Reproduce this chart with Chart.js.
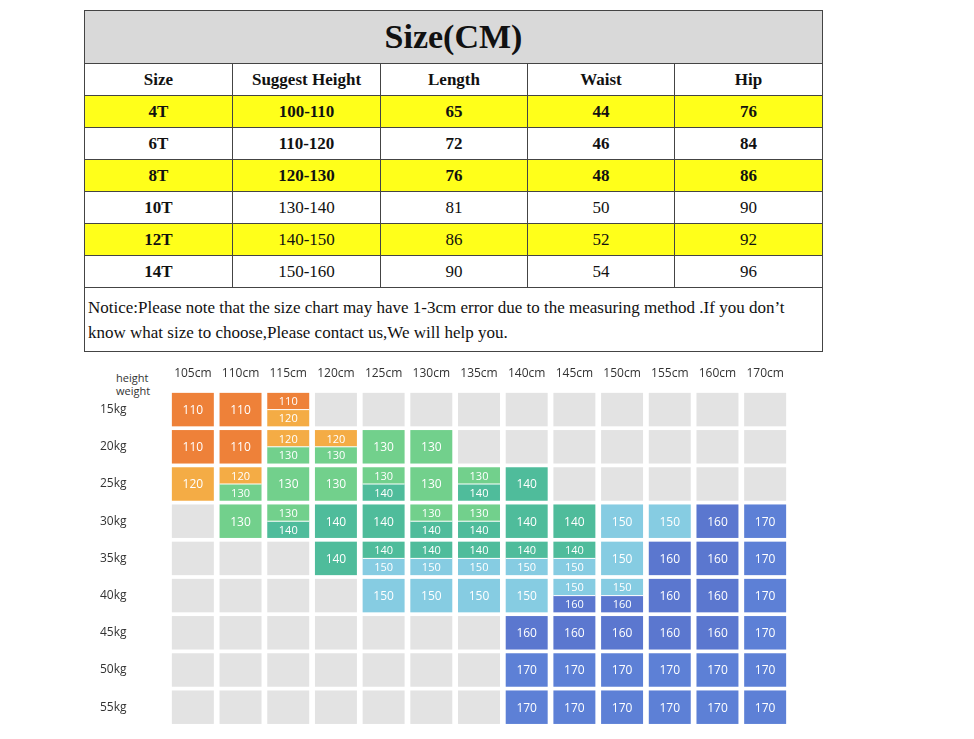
<!DOCTYPE html>
<html><head><meta charset="utf-8">
<script src="https://cdn.jsdelivr.net/npm/chart.js@4"></script>
<style>
body{margin:0;background:#fff;width:974px;height:739px;position:relative;overflow:hidden}
table{position:absolute;left:84px;top:10px;width:738px;table-layout:fixed;border-collapse:collapse;font-family:"Liberation Serif","DejaVu Serif",serif;color:#111}
td{border:1px solid #444;text-align:center;font-size:17px;height:31px;padding:0}
.t{background:#d9d9d9;font-size:34px;font-weight:bold;height:52px}
.y td{background:#ffff1a}
.b td{font-weight:bold}
.n{text-align:left;font-size:17px;line-height:25px;height:63px;padding-left:3px}
#hw{position:absolute;left:116px;top:371px;font:11px "Open Sans",sans-serif;color:#333;line-height:13px}
#box{position:absolute;left:100px;top:365px;width:700px;height:372px}
</style></head><body>
<table id="tbl"></table>
<div id="hw">height<br>weight</div>
<div id="box"><canvas id="c"></canvas></div>
<script>
const sizes=["4T","6T","8T","10T","12T","14T"];
const heightsSuggest=["100-110","110-120","120-130","130-140","140-150","150-160"];
const lengths=[65,72,76,81,86,90];
const waists=[44,46,48,50,52,54];
const hips=[76,84,86,90,92,96];
const heights=["105cm","110cm","115cm","120cm","125cm","130cm","135cm","140cm","145cm","150cm","155cm","160cm","170cm"];
const weights=["15kg","20kg","25kg","30kg","35kg","40kg","45kg","50kg","55kg"];
const grid=[
["110","110","110/120","","","","","","","","","",""],
["110","110","120/130","120/130","130","130","","","","","","",""],
["120","120/130","130","130","130/140","130","130/140","140","","","","",""],
["","130","130/140","140","140","130/140","130/140","140","140","150","150","160","170"],
["","","","140","140/150","140/150","140/150","140/150","140/150","150","160","160","170"],
["","","","","150","150","150","150","150/160","150/160","160","160","170"],
["","","","","","","","160","160","160","160","160","170"],
["","","","","","","","170","170","170","170","170","170"],
["","","","","","","","170","170","170","170","170","170"]];
const colors={"110":"#ee8139","120":"#f4ac45","130":"#72d08c","140":"#4fbc9b","150":"#86cce2","160":"#5b77cf","170":"#5d80d6"};

let h='<colgroup><col style="width:148px"><col style="width:148px"><col style="width:147px"><col style="width:147px"><col style="width:148px"></colgroup><tr><td colspan="5" class="t">Size(CM)</td></tr><tr class="b"><td>Size</td><td>Suggest Height</td><td>Length</td><td>Waist</td><td>Hip</td></tr>';
sizes.forEach((s,i)=>{const hl=i%2==0;const bold=i<3;
h+=`<tr class="${hl?'y ':''}${bold?'b':''}"><td style="font-weight:bold">${s}</td><td>${heightsSuggest[i]}</td><td>${lengths[i]}</td><td>${waists[i]}</td><td>${hips[i]}</td></tr>`;});
h+='<tr><td colspan="5" class="n">Notice:Please note that the size chart may have 1-3cm error due to the measuring method .If you don’t know what size to choose,Please contact us,We will help you.</td></tr>';
document.getElementById('tbl').innerHTML=h;

const cells={id:'cells',beforeDatasetsDraw(ch){
 const ctx=ch.ctx,x=ch.scales.x,y=ch.scales.y;
 const dx=x.getPixelForValue(1)-x.getPixelForValue(0),dy=y.getPixelForValue(1)-y.getPixelForValue(0);
 const w=dx*0.88,hh=dy*0.9;
 ctx.save();ctx.textAlign='center';ctx.textBaseline='middle';
 grid.forEach((row,i)=>row.forEach((v,j)=>{
  const cx=x.getPixelForValue(j),cy=y.getPixelForValue(i),l=cx-w/2,t=cy-hh/2;
  if(!v){ctx.fillStyle='#e3e3e3';ctx.fillRect(l,t,w,hh);return;}
  const p=v.split('/');
  if(p.length==1){ctx.fillStyle=colors[v];ctx.fillRect(l,t,w,hh);
   ctx.fillStyle='#fff';ctx.font='12px "Open Sans",sans-serif';ctx.fillText(v,cx,cy+1);}
  else{ctx.fillStyle=colors[p[0]];ctx.fillRect(l,t,w,hh/2);
   ctx.fillStyle=colors[p[1]];ctx.fillRect(l,t+hh/2,w,hh/2);
   ctx.fillStyle='#fff';ctx.fillRect(l,t+hh/2-0.5,w,1);
   ctx.font='11px "Open Sans",sans-serif';
   ctx.fillText(p[0],cx,t+hh/4+1);ctx.fillText(p[1],cx,t+hh*3/4+1);}
 }));ctx.restore();}};

new Chart(document.getElementById('c'),{type:'scatter',
 data:{datasets:[{data:[],pointRadius:0}]},
 options:{responsive:true,maintainAspectRatio:false,animation:false,
  layout:{padding:{right:11,bottom:5}},
  plugins:{legend:{display:false},tooltip:{enabled:false}},
  scales:{
   x:{type:'category',labels:heights,position:'top',offset:true,grid:{display:false},border:{display:false},
      ticks:{color:'#333',font:{size:12,family:'"Open Sans",sans-serif'},padding:2,maxRotation:0,autoSkip:false},
      afterFit(s){s.height=26;}},
   y:{type:'category',labels:weights,offset:true,grid:{display:false},border:{display:false},
      ticks:{color:'#333',font:{size:12,family:'"Open Sans",sans-serif'},autoSkip:false,crossAlign:'far',padding:4},
      afterFit(s){s.width=69;}}}},
 plugins:[cells]});
</script></body></html>
